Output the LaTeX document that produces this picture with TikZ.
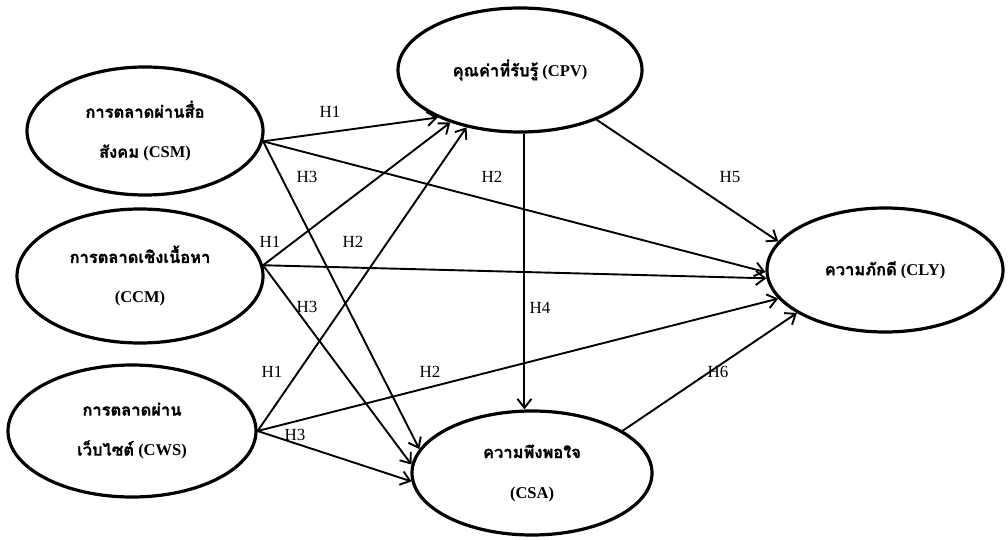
\documentclass[tikz,border=0pt]{standalone}
\usepackage{fontspec}
\setmainfont{Liberation Serif}
\newfontfamily\thaifont[Script=Thai, BoldFeatures={FakeBold=1.2}]{Loma}
\usetikzlibrary{shapes.geometric,arrows.meta}

\begin{document}
\begin{tikzpicture}[x=1pt,y=-1pt,
    construct/.style={ellipse, draw, line width=3.2pt, inner sep=0pt, align=center,
        font=\bfseries\fontsize{16.5}{40}\selectfont},
    path/.style={line width=1.9pt, -{Straight Barb[length=9pt,width=14pt]}},
    hyp/.style={font=\fontsize{17}{20}\selectfont}]

    \useasboundingbox (0,0) rectangle (1008,540);

    % Define the constructs (ellipses)
    \node[construct, minimum width=236, minimum height=128] (csm) at (145,131)
        {{\thaifont การตลาดผ่านสื่อ}\\{\thaifont สังคม} (CSM)};
    \node[construct, minimum width=246, minimum height=134] (ccm) at (140,276)
        {{\thaifont การตลาดเชิงเนื้อหา}\\(CCM)};
    \node[construct, minimum width=248, minimum height=132] (cws) at (132,431)
        {{\thaifont การตลาดผ่าน}\\{\thaifont เว็บไซต์} (CWS)};
    \node[construct, minimum width=244, minimum height=124] (cpv) at (520,70)
        {{\thaifont คุณค่าที่รับรู้} (CPV)};
    \node[construct, minimum width=240, minimum height=124] (csa) at (532,473)
        {{\thaifont ความพึงพอใจ}\\(CSA)};
    \node[construct, minimum width=236, minimum height=124] (cly) at (885,270)
        {{\thaifont ความภักดี} (CLY)};

    % Draw the paths to CPV
    \draw[path] (csm.-5) -- (cpv.210);
    \draw[path] (ccm.5) -- (cpv.217);
    \draw[path] (cws.east) -- (cpv.227);

    % Draw the paths to CLY
    \draw[path] (csm.-5) -- (cly.181);
    \draw[path] (ccm.5) -- (cly.184);
    \draw[path] (cws.east) -- (cly.195);
    \draw[path] (cpv.-33) -- (cly.165);
    \draw[path] (csa.25) -- (cly.206);

    % Draw the paths to CSA
    \draw[path] (csm.-5) -- (csa.168);
    \draw[path] (ccm.5) -- (csa.176);
    \draw[path] (cws.east) -- (csa.184);
    \draw[path] (cpv.-86) -- (cpv.-86 |- csa.north);

    % Add the hypothesis labels
    \node[hyp] (h1a) at (330,112) {H1};
    \node[hyp] (h1b) at (270,242) {H1};
    \node[hyp] (h1c) at (272,372) {H1};
    \node[hyp] (h2a) at (492,177) {H2};
    \node[hyp] (h2b) at (353,242) {H2};
    \node[hyp] (h2c) at (430,372) {H2};
    \node[hyp] (h3a) at (307,177) {H3};
    \node[hyp] (h3b) at (307,307) {H3};
    \node[hyp] (h3c) at (295,435) {H3};
    \node[hyp] (h4) at (540,308) {H4};
    \node[hyp] (h5) at (730,177) {H5};
    \node[hyp] (h6) at (718,372) {H6};

\end{tikzpicture}
\end{document}
